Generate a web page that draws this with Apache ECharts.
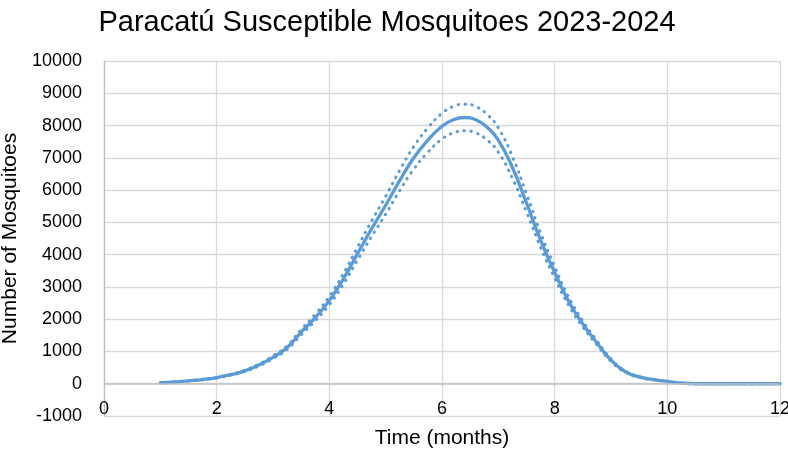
<!DOCTYPE html>
<html>
<head>
<meta charset="utf-8">
<script src="https://cdn.jsdelivr.net/npm/echarts@6/dist/echarts.min.js"></script>
<style>
  html, body { margin: 0; padding: 0; background: #fff; }
  #chart { width: 788px; height: 452px; }
</style>
</head>
<body>
<div id="chart"></div>
<script>
// time in months
var months = [1, 1.25, 1.5, 1.75, 2, 2.25, 2.5, 2.75, 3, 3.25, 3.5, 3.75, 4, 4.25, 4.5, 4.75,
  5, 5.25, 5.5, 5.75, 6, 6.2, 6.4, 6.6, 6.8, 7, 7.25, 7.5, 7.75, 8, 8.25, 8.5, 8.75,
  9, 9.25, 9.5, 9.75, 10, 10.25, 10.5, 11, 11.5, 12];
// susceptible mosquitoes (model)
var susceptible = [30, 55, 90, 130, 190, 280, 400, 580, 820, 1120, 1600, 2050, 2580, 3250, 4030, 4800,
  5530, 6300, 7000, 7550, 7980, 8180, 8250, 8180, 7950, 7550, 6700, 5600, 4450, 3450, 2550, 1850, 1270,
  730, 380, 210, 130, 70, 20, 0, 0, 0, 0];
// upper bound
var upper = [32, 58, 95, 137, 200, 294, 420, 609, 861, 1176, 1680, 2153, 2709, 3413, 4232, 5040,
  5807, 6615, 7350, 7928, 8379, 8589, 8663, 8589, 8348, 7928, 7035, 5880, 4673, 3623, 2678, 1943, 1334,
  767, 399, 221, 137, 74, 21, 0, 0, 0, 0];
// lower bound
var lower = [29, 52, 86, 124, 181, 266, 380, 551, 779, 1064, 1520, 1948, 2451, 3088, 3829, 4560,
  5254, 5985, 6650, 7173, 7581, 7771, 7838, 7771, 7553, 7173, 6365, 5320, 4228, 3278, 2423, 1758, 1207,
  694, 361, 200, 124, 67, 19, 0, 0, 0, 0];

var blue = '#5B9BD5';
var font = 'Liberation Sans';

function pairs(ys) {
  return months.map(function (m, i) { return [m, ys[i]]; });
}

var chart = echarts.init(document.getElementById('chart'));

var options = {
  animation: false,
  title: {
    text: 'Paracatú Susceptible Mosquitoes 2023-2024',
    left: 382,
    textAlign: 'center',
    top: 3,
    textStyle: { fontFamily: font, fontSize: 29, fontWeight: 'normal', color: '#000' }
  },
  grid: { left: 104, right: 8, top: 61, bottom: 36, outerBoundsMode: 'none', containLabel: false },
  xAxis: {
    type: 'value',
    min: 0,
    max: 12,
    interval: 2,
    name: 'Time (months)',
    nameLocation: 'middle',
    nameGap: 12,
    nameTextStyle: { fontFamily: font, fontSize: 21, color: '#000', verticalAlign: 'top' },
    axisLine: { show: false },
    axisTick: { show: false },
    axisLabel: { inside: true, margin: -2, fontFamily: font, fontSize: 18, color: '#000' },
    splitLine: { show: true, lineStyle: { color: '#d9d9d9', width: 1.3 } }
  },
  yAxis: {
    type: 'value',
    min: -1000,
    max: 10000,
    interval: 1000,
    name: 'Number of Mosquitoes',
    nameLocation: 'middle',
    nameGap: 74,
    nameTextStyle: { fontFamily: font, fontSize: 21, color: '#000' },
    axisLine: { show: true, lineStyle: { color: '#bfbfbf', width: 1.3 } },
    axisTick: { show: false },
    axisLabel: {
      margin: 22, fontFamily: font, fontSize: 18, color: '#000',
      formatter: function (v) { return String(v); }
    },
    splitLine: { show: true, lineStyle: { color: '#d9d9d9', width: 1.3 } }
  },
  series: [
    {
      type: 'line',
      data: pairs(upper),
      smooth: true,
      symbol: 'none',
      lineStyle: { color: blue, width: 3, type: [0.5, 6.5], cap: 'round' }
    },
    {
      type: 'line',
      data: pairs(lower),
      smooth: true,
      symbol: 'none',
      lineStyle: { color: blue, width: 3, type: [0.5, 6.5], cap: 'round' }
    },
    {
      type: 'line',
      data: pairs(susceptible),
      smooth: true,
      symbol: 'none',
      lineStyle: { color: blue, width: 3.3 },
      markLine: {
        silent: true,
        symbol: 'none',
        label: { show: false },
        lineStyle: { color: '#bfbfbf', width: 1.5, type: 'solid' },
        data: [{ yAxis: 0 }]
      },
      z: 3
    }
  ]
};

chart.setOption(options);
</script>
</body>
</html>
